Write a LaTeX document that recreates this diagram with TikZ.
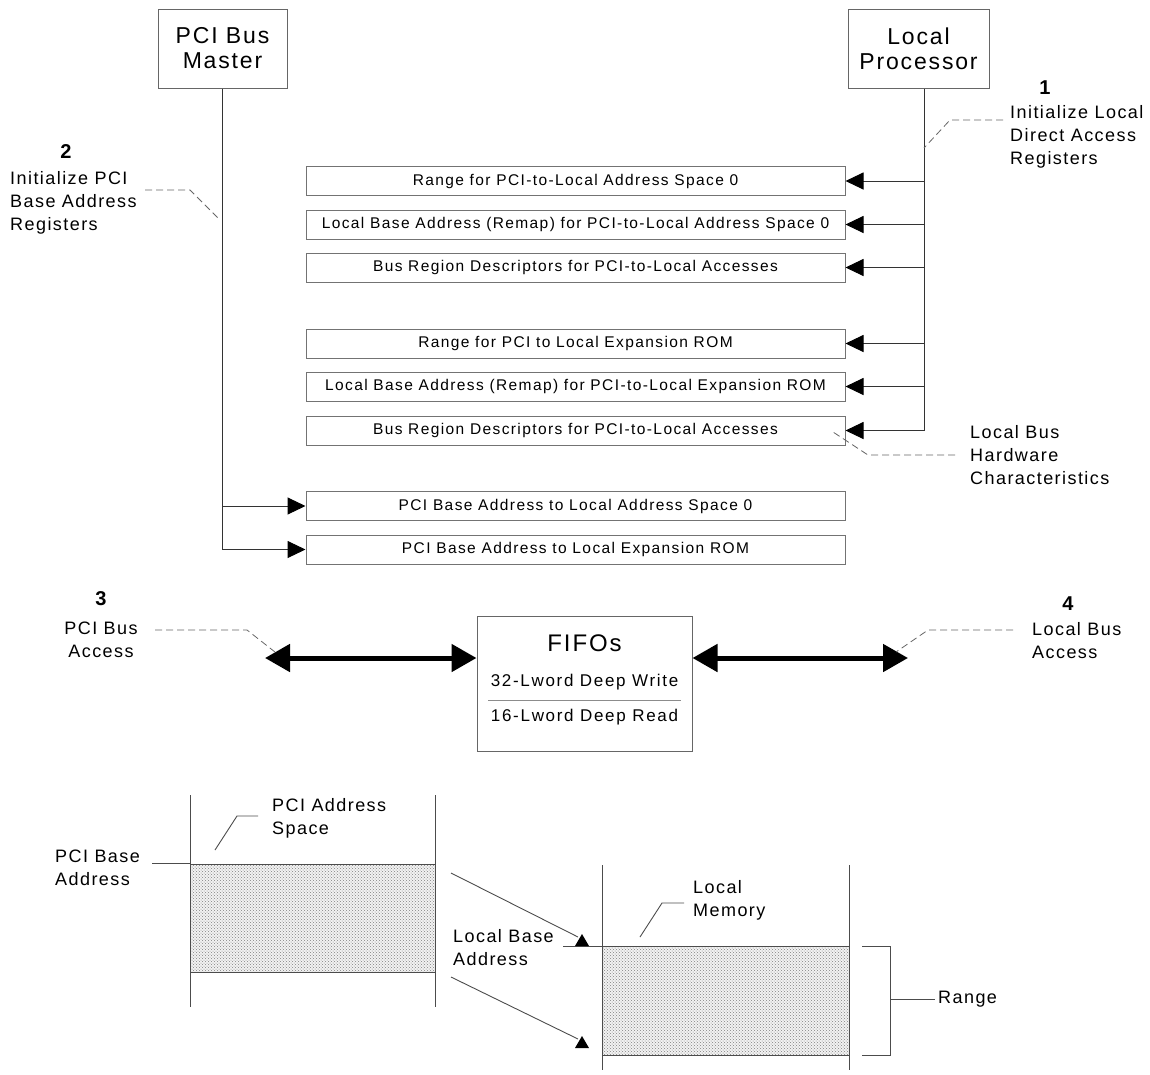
\documentclass[tikz,border=0pt]{standalone}
\usepackage{fontspec}
\setmainfont{Liberation Sans}
\newfontfamily\regf{Liberation Sans}[LetterSpace=9]
\newfontfamily\labf{Liberation Sans}[LetterSpace=8]
\usetikzlibrary{arrows.meta,patterns}
\begin{document}
\begin{tikzpicture}[x=1pt,y=-1pt,
  regbox/.style={draw=black!55, line width=1pt, minimum width=539pt, minimum height=29pt, inner sep=0pt, font=\regf\fontsize{15.5}{18}\selectfont},
  bigbox/.style={draw=black!60, line width=1pt, minimum height=79pt, align=center, inner sep=0pt, font=\labf\fontsize{23}{25}\selectfont},
  lab/.style={align=left, inner sep=0pt, anchor=west, font=\labf\fontsize{18}{23}\selectfont},
  clab/.style={align=center, inner sep=0pt, font=\labf\fontsize{18}{23}\selectfont},
  num/.style={inner sep=0pt, font=\bfseries\fontsize{20}{24}\selectfont},
  bus/.style={draw=black!80, line width=1pt},
  arr/.style={bus, -{Triangle[length=18pt,width=17pt,fill=black,color=black]}},
  leader/.style={draw=black!60, line width=0.8pt, dash pattern=on 7pt off 4pt},
  thinl/.style={draw=black!70, line width=0.9pt},
  fat/.style={line width=5pt, {Triangle[length=25pt,width=27pt]}-{Triangle[length=25pt,width=27pt]}},
  shade/.style={pattern=crosshatch dots, pattern color=black!50}
]
\useasboundingbox (0,0) rectangle (1150,1074);

% top boxes
\node[bigbox, minimum width=129pt] (pm) at (222.5,48.5) {PCI Bus\\Master};
\node[bigbox, minimum width=141pt] (lp) at (918.5,48.5) {Local\\Processor};

% register boxes
\node[regbox] (r1) at (575.5,181) {Range for PCI-to-Local Address Space 0};
\node[regbox] (r2) at (575.5,224.5) {Local Base Address (Remap) for PCI-to-Local Address Space 0};
\node[regbox] (r3) at (575.5,267.5) {Bus Region Descriptors for PCI-to-Local Accesses};
\node[regbox] (r4) at (575.5,343.5) {Range for PCI to Local Expansion ROM};
\node[regbox] (r5) at (575.5,386.5) {Local Base Address (Remap) for PCI-to-Local Expansion ROM};
\node[regbox] (r6) at (575.5,430.5) {Bus Region Descriptors for PCI-to-Local Accesses};
\node[regbox] (r7) at (575.5,506) {PCI Base Address to Local Address Space 0};
\node[regbox] (r8) at (575.5,549.5) {PCI Base Address to Local Expansion ROM};

% local processor bus
\coordinate (lbx) at (924,0);
\draw[bus] (lp.south -| lbx) -- (lbx |- r6.east);
\foreach \r in {r1,r2,r3,r4,r5,r6}{\draw[arr] (lbx |- \r.east) -- (\r.east);}
% pci master bus
\draw[bus] (pm.south) -- (pm.south |- r8.west);
\draw[arr] (pm.south |- r7.west) -- (r7.west);
\draw[arr] (pm.south |- r8.west) -- (r8.west);

% labels 1,2 and hardware
\node[num] (n1) at (1045,88) {1};
\node[lab] (t1) at (1010,137) {Initialize Local\\Direct Access\\Registers};
\coordinate (d1a) at (1003,120); \coordinate (d1b) at (950,120); \coordinate (d1c) at (924,148);
\draw[leader] (d1a) -- (d1b) -- (d1c);

\node[num] (n2) at (66,152) {2};
\node[lab] (t2) at (10,203) {Initialize PCI\\Base Address\\Registers};
\coordinate (d2a) at (145,190); \coordinate (d2b) at (190,190); \coordinate (d2c) at (220,220);
\draw[leader] (d2a) -- (d2b) -- (d2c);

\node[lab] (thw) at (970,455) {Local Bus\\Hardware\\Characteristics};
\coordinate (dha) at (955,455); \coordinate (dhb) at (868,455); \coordinate (dhc) at (833,432);
\draw[leader] (dha) -- (dhb) -- (dhc);

% FIFO
\node[draw=black!60, line width=1pt, minimum width=215pt, minimum height=135pt, inner sep=0pt] (fifo) at (584.5,683.5) {};
\node[inner sep=0pt, font=\labf\fontsize{24}{28}\selectfont] (ff) at (584.5,643) {FIFOs};
\node[inner sep=0pt, font=\labf\addfontfeature{LetterSpace=10}\fontsize{17}{20}\selectfont] (fw) at (584.5,682) {32-Lword Deep Write};
\node[inner sep=0pt, font=\labf\addfontfeature{LetterSpace=10}\fontsize{17}{20}\selectfont] (fr) at (584.5,717) {16-Lword Deep Read};
\draw[draw=black!45, line width=1pt] (488,700) -- (681,700);

\coordinate (pa) at (265,658);
\coordinate (la) at (908,658);
\draw[fat] (pa) -- (pa -| fifo.west);
\draw[fat] (la -| fifo.east) -- (la);

\node[num] (n3) at (101,599) {3};
\node[clab] (t3) at (101,640) {PCI Bus\\Access};
\coordinate (d3a) at (155,630); \coordinate (d3b) at (247,630); \coordinate (d3c) at (275,652);
\draw[leader] (d3a) -- (d3b) -- (d3c);

\node[num] (n4) at (1068,604) {4};
\node[lab] (t4) at (1032,641) {Local Bus\\Access};
\coordinate (d4a) at (1013,630); \coordinate (d4b) at (928,630); \coordinate (d4c) at (896,652);
\draw[leader] (d4a) -- (d4b) -- (d4c);

% PCI address space
\fill[gray!10] (190,864) rectangle (435,972);
\fill[shade] (190,864) rectangle (435,972);
\draw[thinl] (190,795) -- (190,1007);
\draw[thinl] (435,795) -- (435,1007);
\draw[thinl] (190,864) -- (435,864);
\draw[thinl] (190,972) -- (435,972);
\node[lab] (tpas) at (272,818) {PCI Address\\Space};
\draw[thinl] (258,816) -- (237,816) -- (215,850);
\node[lab] (tpba) at (55,868) {PCI Base\\Address};
\draw[thinl] (152,863) -- (190,863);

% local memory
\fill[gray!10] (602,946) rectangle (849,1055);
\fill[shade] (602,946) rectangle (849,1055);
\draw[thinl] (602,865) -- (602,1070);
\draw[thinl] (849,865) -- (849,1070);
\draw[thinl] (602,946) -- (849,946);
\draw[thinl] (602,1055) -- (849,1055);
\node[lab] (tlm) at (693,900) {Local\\Memory};
\draw[thinl] (684,903) -- (662,903) -- (640,937);

\node[lab] (tlba) at (453,948) {Local Base\\Address};
\draw[thinl] (563,946) -- (602,946);
\draw[thinl] (451,873) -- (578,937);
\draw[thinl] (451,977) -- (578,1039);
\fill[black] (582,934) -- (589,946) -- (575,946) -- cycle;
\fill[black] (582,1036) -- (589,1048) -- (575,1048) -- cycle;

% range bracket
\draw[thinl] (862,946) -- (890,946) -- (890,1055) -- (862,1055);
\draw[thinl] (890,999) -- (935,999);
\node[lab] (trange) at (938,999) {Range};
\end{tikzpicture}
\end{document}
